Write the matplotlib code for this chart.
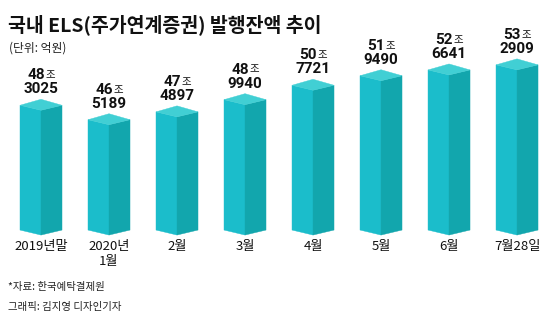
import matplotlib
matplotlib.use("Agg")
import matplotlib.pyplot as plt
from matplotlib.patches import Polygon

# data (조, 억)
categories = ["2019년말", "2020년\n1월", "2월", "3월", "4월", "5월", "6월", "7월28일"]
jo = [48, 46, 47, 48, 50, 51, 52, 53]
eok = [3025, 5189, 4897, 9940, 7721, 9490, 6641, 2909]
values = [j + e / 10000 for j, e in zip(jo, eok)]

title = "국내 ELS(주가연계증권) 발행잔액 추이"
unit = "(단위: 억원)"
source = "*자료: 한국예탁결제원"
credit = "그래픽: 김지영 디자인기자"

KR = ["Noto Sans CJK KR", "DejaVu Sans"]
NUM = ["Roboto", "Noto Sans CJK KR"]
plt.rcParams["font.family"] = KR

LEFT = "#1bbdcb"
RIGHT = "#12a6ad"
TOP = "#41cfd4"

fig = plt.figure(figsize=(5.6, 3.24), dpi=100)
ax = fig.add_axes([0, 0, 1, 1])
ax.set_xlim(-0.603, 7.632)
ax.set_ylim(21.30, 61.30)
ax.axis("off")

base = 32.9
hw = 21 / 68        # half width in x units
up = 6 / 8.1        # rhombus peak above corners
down = 5 / 8.1      # front vertex below corners
pt = 0.72           # px -> points at 100 dpi

for i, v in enumerate(values):
    l, r = i - hw, i + hw
    ax.add_patch(Polygon([(l, v), (i, v - down), (i, base - down), (l, base)],
                         closed=True, fc=LEFT, ec=LEFT, lw=0.3))
    ax.add_patch(Polygon([(i, v - down), (r, v), (r, base), (i, base - down)],
                         closed=True, fc=RIGHT, ec=RIGHT, lw=0.3))
    ax.add_patch(Polygon([(l, v), (i, v + up), (r, v), (i, v - down)],
                         closed=True, fc=TOP, ec=TOP, lw=0.3))
    ax.annotate(f"{eok[i]}", xy=(i, v), xytext=(0, 16 * pt), textcoords="offset points",
                ha="center", va="center", fontsize=11, fontweight="bold",
                family=NUM, color="#111111")
    ax.annotate(f"{jo[i]}", xy=(i, v), xytext=(4 * pt, 30 * pt), textcoords="offset points",
                ha="right", va="center", fontsize=11, fontweight="bold",
                family=NUM, color="#111111")
    ax.annotate("조", xy=(i, v), xytext=(4.5 * pt, 30 * pt), textcoords="offset points",
                ha="left", va="center", fontsize=7.5, family=KR, color="#111111")
    ax.annotate(categories[i], xy=(i, base), xytext=(0, -10 * pt), textcoords="offset points",
                ha="center", va="top", fontsize=9.5, linespacing=1.2, color="#111111")

fig.text(8 / 560, 1 - 25 / 324, title, fontsize=14, fontweight="bold",
         va="center", ha="left", color="#111111")
fig.text(9 / 560, 1 - 48 / 324, unit, fontsize=8.5, va="center", ha="left", color="#222222")
fig.text(8 / 560, 1 - 287 / 324, source, fontsize=7.5, va="center", ha="left", color="#222222")
fig.text(8 / 560, 1 - 307 / 324, credit, fontsize=7.5, va="center", ha="left", color="#222222")

fig.savefig("out.png", dpi=100)
